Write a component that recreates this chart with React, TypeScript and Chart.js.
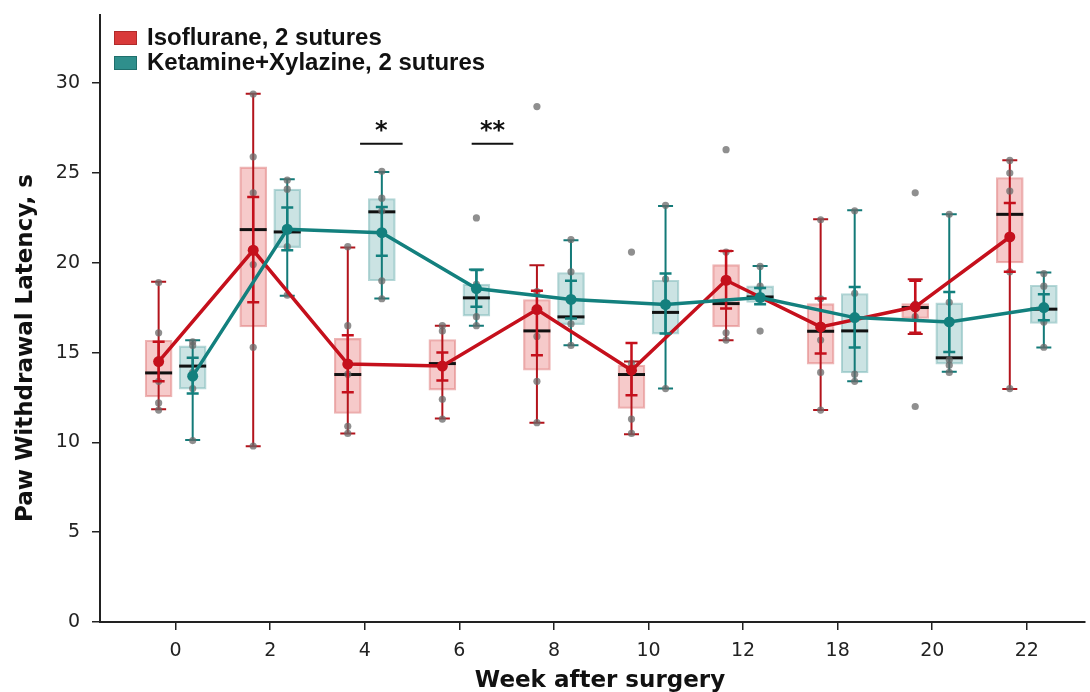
import React, { useEffect, useRef } from 'react';
import { Chart, registerables } from 'chart.js';

Chart.register(...registerables);

// ---------- data ----------
const weeks = ['0', '2', '4', '6', '8', '10', '12', '18', '20', '22'];
const seriesNames = ['Isoflurane, 2 sutures', 'Ketamine+Xylazine, 2 sutures'];

// Isoflurane
const isoMean = [14.5, 20.7, 14.36, 14.25, 17.4, 14.02, 19.03, 16.43, 17.55, 21.44];
const isoErrLow = [13.4, 17.8, 12.8, 13.45, 14.86, 12.63, 17.46, 14.95, 16.1, 19.5];
const isoErrHigh = [15.6, 23.67, 15.97, 15.01, 18.44, 15.54, 20.66, 18.01, 19.0, 23.33];
const isoQ1 = [12.54, 16.43, 11.61, 12.91, 14.02, 11.89, 16.43, 14.36, 16.9, 20.0];
const isoQ3 = [15.69, 25.34, 15.79, 15.73, 17.96, 14.3, 19.9, 17.73, 17.73, 24.75];
const isoMedian = [13.87, 21.85, 13.78, 14.39, 16.21, 13.78, 17.73, 16.19, 17.51, 22.7];
const isoWhiskerLow = [11.84, 9.79, 10.5, 11.33, 11.09, 10.46, 15.69, 11.8, 16.03, 12.97];
const isoWhiskerHigh = [18.94, 29.42, 20.85, 16.49, 19.87, 14.5, 20.66, 22.43, 19.09, 25.71];
const isoPoints = [
  [18.9, 16.1, 13.4, 12.2, 11.8],
  [29.4, 25.9, 23.9, 19.9, 15.3, 9.8],
  [20.9, 16.5, 13.8, 10.9, 10.5],
  [16.5, 16.2, 12.4, 11.3],
  [28.7, 18.4, 15.9, 13.4, 11.1],
  [20.6, 14.4, 11.3, 10.5],
  [26.3, 20.6, 16.1, 15.7],
  [22.4, 18.0, 15.7, 13.9, 11.8],
  [23.9, 17.7, 17.0, 12.0],
  [25.7, 25.0, 24.0, 19.5, 13.0],
];

// Ketamine+Xylazine
const ketMean = [13.69, 21.87, 21.68, 18.57, 17.96, 17.68, 18.07, 16.95, 16.71, 17.51];
const ketErrLow = [12.73, 20.7, 20.39, 17.55, 16.9, 16.07, 17.7, 15.29, 15.04, 16.8];
const ketErrHigh = [14.71, 23.08, 23.11, 19.6, 19.0, 19.4, 18.6, 18.66, 18.38, 18.25];
const ketQ1 = [12.97, 20.85, 19.0, 17.03, 16.56, 16.03, 17.79, 13.87, 14.36, 16.62];
const ketQ3 = [15.38, 24.1, 23.58, 18.81, 19.46, 19.03, 18.72, 18.29, 17.77, 18.75];
const ketMedian = [14.25, 21.72, 22.84, 18.05, 16.99, 17.24, 18.1, 16.21, 14.71, 17.42];
const ketWhiskerLow = [10.13, 18.16, 18.01, 16.49, 15.41, 13.0, 18.01, 13.41, 13.93, 15.29];
const ketWhiskerHigh = [15.69, 24.65, 25.06, 19.63, 21.26, 23.17, 19.83, 22.93, 22.7, 19.46];
const ketPoints = [
  [15.6, 15.4, 13.9, 13.0, 10.1],
  [24.6, 24.1, 20.9, 18.2],
  [25.1, 23.6, 22.9, 19.0, 18.0],
  [22.5, 18.8, 17.0, 16.5],
  [21.3, 19.5, 16.6, 15.4],
  [23.2, 19.1, 13.0],
  [19.8, 18.7, 16.2],
  [22.9, 18.3, 13.8, 13.4],
  [22.7, 17.8, 14.6, 14.3, 13.9],
  [19.4, 18.7, 16.7, 15.3],
];

// significance markers (x in category-index units)
const sigStart = [1.95, 3.13];
const sigEnd = [2.4, 3.57];
const sigValue = [26.63, 26.63];
const sigLabel = ['*', '**'];

const yTickValues = [0, 5, 10, 15, 20, 25, 30];
const xAxisTitle = 'Week after surgery';
const yAxisTitle = 'Paw Withdrawal Latency, s';

const GROUP_OFFSET = 0.18;

export default function App() {
  const canvasRef = useRef<HTMLCanvasElement | null>(null);

  useEffect(() => {
    document.body.style.margin = '0';
    const canvas = canvasRef.current;
    if (!canvas) return;

    const series = [
      {
        name: seriesNames[0],
        xs: weeks.map((_, i) => i - GROUP_OFFSET),
        mean: isoMean, errLow: isoErrLow, errHigh: isoErrHigh,
        q1: isoQ1, q3: isoQ3, median: isoMedian,
        wLow: isoWhiskerLow, wHigh: isoWhiskerHigh, points: isoPoints,
        line: '#c5101c', whisk: '#b3141c',
        fill: 'rgba(228,90,90,0.32)', border: 'rgba(215,90,90,0.45)',
        legendFill: '#d93a3a', legendBorder: '#b02a2a',
      },
      {
        name: seriesNames[1],
        xs: weeks.map((_, i) => i + GROUP_OFFSET),
        mean: ketMean, errLow: ketErrLow, errHigh: ketErrHigh,
        q1: ketQ1, q3: ketQ3, median: ketMedian,
        wLow: ketWhiskerLow, wHigh: ketWhiskerHigh, points: ketPoints,
        line: '#13807e', whisk: '#137a78',
        fill: 'rgba(70,155,155,0.28)', border: 'rgba(70,155,155,0.4)',
        legendFill: '#2f8f8c', legendBorder: '#1f6f6c',
      },
    ];

    const datasets: any[] = [];
    series.forEach((s, si) => {
      datasets.push({
        type: 'bar',
        label: s.name,
        role: 'box',
        seriesIndex: si,
        data: s.xs.map((x, i) => ({ x, y: [s.q1[i], s.q3[i]] })),
        backgroundColor: s.fill,
        borderColor: s.border,
        borderWidth: 1.5,
        borderSkipped: false,
        barThickness: 27,
        grouped: false,
        order: 10,
      });
    });
    series.forEach((s, si) => {
      datasets.push({
        type: 'scatter',
        label: s.name + ' points',
        role: 'points',
        seriesIndex: si,
        data: s.points.flatMap((arr, i) => arr.map((v) => ({ x: s.xs[i], y: v }))),
        backgroundColor: 'rgba(105,105,105,0.75)',
        borderWidth: 0,
        pointRadius: 3.6,
        showLine: false,
        order: 5,
      });
    });
    [0, 1].forEach((si) => {
      const s = series[si];
      datasets.push({
        type: 'line',
        label: s.name + ' mean',
        role: 'mean',
        seriesIndex: si,
        data: s.xs.map((x, i) => ({ x, y: s.mean[i] })),
        borderColor: s.line,
        backgroundColor: s.line,
        borderWidth: 3.5,
        pointRadius: 5.5,
        pointBorderWidth: 0,
        pointBackgroundColor: s.line,
        tension: 0,
        fill: false,
        order: si === 0 ? 2 : 1,
      });
    });

    const extras = {
      id: 'boxExtras',
      beforeDatasetDraw(chart: any, args: any) {
        const ds = chart.data.datasets[args.index];
        if (ds.role !== 'mean') return;
        const s = series[ds.seriesIndex];
        const xS = chart.scales.x, yS = chart.scales.y;
        const c = chart.ctx;
        c.save();
        c.strokeStyle = s.line;
        c.lineWidth = 2.5;
        s.xs.forEach((xv, i) => {
          const x = xS.getPixelForValue(xv);
          const y1 = yS.getPixelForValue(s.errLow[i]);
          const y2 = yS.getPixelForValue(s.errHigh[i]);
          c.beginPath();
          c.moveTo(x, y1); c.lineTo(x, y2);
          c.moveTo(x - 6, y1); c.lineTo(x + 6, y1);
          c.moveTo(x - 6, y2); c.lineTo(x + 6, y2);
          c.stroke();
        });
        c.restore();
      },
      afterDatasetDraw(chart: any, args: any) {
        const ds = chart.data.datasets[args.index];
        if (ds.role !== 'box') return;
        const s = series[ds.seriesIndex];
        const xS = chart.scales.x, yS = chart.scales.y;
        const c = chart.ctx;
        c.save();
        c.strokeStyle = s.whisk;
        c.lineWidth = 2;
        s.xs.forEach((xv, i) => {
          const x = xS.getPixelForValue(xv);
          const y1 = yS.getPixelForValue(s.wLow[i]);
          const y2 = yS.getPixelForValue(s.wHigh[i]);
          c.beginPath();
          c.moveTo(x, y1); c.lineTo(x, y2);
          c.moveTo(x - 7.5, y1); c.lineTo(x + 7.5, y1);
          c.moveTo(x - 7.5, y2); c.lineTo(x + 7.5, y2);
          c.stroke();
        });
        c.strokeStyle = '#111';
        c.lineWidth = 3;
        s.xs.forEach((xv, i) => {
          const x = xS.getPixelForValue(xv);
          const y = yS.getPixelForValue(s.median[i]);
          c.beginPath();
          c.moveTo(x - 13.5, y); c.lineTo(x + 13.5, y);
          c.stroke();
        });
        c.restore();
      },
      afterDraw(chart: any) {
        const xS = chart.scales.x, yS = chart.scales.y;
        const c = chart.ctx;
        c.save();
        // significance
        c.strokeStyle = '#111';
        c.fillStyle = '#111';
        c.lineWidth = 2.2;
        c.font = 'bold 24px "DejaVu Sans"';
        c.textAlign = 'center';
        c.textBaseline = 'alphabetic';
        sigStart.forEach((xs, i) => {
          const x1 = xS.getPixelForValue(xs);
          const x2 = xS.getPixelForValue(sigEnd[i]);
          const y = yS.getPixelForValue(sigValue[i]);
          c.beginPath();
          c.moveTo(x1, y); c.lineTo(x2, y);
          c.stroke();
          c.fillText(sigLabel[i], (x1 + x2) / 2, y - 6);
        });
        // legend
        c.textAlign = 'left';
        c.font = 'bold 24px "Liberation Sans"';
        series.forEach((s, i) => {
          const top = 31 + i * 25;
          c.fillStyle = s.legendFill;
          c.fillRect(114, top, 23, 14);
          c.strokeStyle = s.legendBorder;
          c.lineWidth = 1;
          c.strokeRect(114.5, top + 0.5, 22, 13);
          c.fillStyle = '#111';
          c.fillText(s.name, 147, 45 + i * 25);
        });
        // axis titles
        c.fillStyle = '#111';
        c.font = 'bold 23px "DejaVu Sans"';
        c.textAlign = 'center';
        c.fillText(xAxisTitle, 600, 687);
        c.translate(32, 348);
        c.rotate(-Math.PI / 2);
        c.fillText(yAxisTitle, 0, 0);
        c.restore();
      },
    };

    const zeroPad = (scale: any) => {
      scale.paddingTop = 0;
      scale.paddingBottom = 0;
      scale.paddingLeft = 0;
      scale.paddingRight = 0;
    };

    const chart = new Chart(canvas, {
      type: 'bar',
      data: { datasets },
      options: {
        responsive: false,
        animation: false,
        devicePixelRatio: 1,
        layout: { padding: { top: 15, left: 0, right: 0, bottom: 0 } },
        plugins: { legend: { display: false }, tooltip: { enabled: false } },
        scales: {
          x: {
            type: 'linear',
            min: -0.8,
            max: 9.61,
            offset: false,
            afterBuildTicks: (scale: any) => {
              scale.ticks = weeks.map((_, i) => ({ value: i }));
            },
            afterFit: (scale: any) => { scale.height = 70; zeroPad(scale); },
            ticks: {
              autoSkip: false,
              maxRotation: 0,
              padding: 10,
              color: '#222',
              font: { family: '"DejaVu Sans"', size: 19 },
              callback: (v: any) => weeks[Math.round(Number(v))] ?? '',
            },
            grid: { offset: false, drawOnChartArea: false, drawTicks: true, tickLength: 8, color: '#222', lineWidth: 1.5 },
            border: { display: true, color: '#222', width: 2 },
          },
          y: {
            type: 'linear',
            min: 0,
            max: 33.8,
            afterBuildTicks: (scale: any) => {
              scale.ticks = yTickValues.map((v) => ({ value: v }));
            },
            afterFit: (scale: any) => { scale.width = 100; zeroPad(scale); },
            ticks: {
              padding: 12,
              color: '#222',
              font: { family: '"DejaVu Sans"', size: 19 },
            },
            grid: { offset: false, drawOnChartArea: false, drawTicks: true, tickLength: 8, color: '#222', lineWidth: 1.5 },
            border: { display: true, color: '#222', width: 2 },
          },
        },
      } as any,
      plugins: [extras],
    });

    return () => chart.destroy();
  }, []);

  return (
    <div style={{ position: 'absolute', left: 0, top: 0, width: 1090, height: 692, background: '#fff' }}>
      <canvas ref={canvasRef} width={1090} height={692} style={{ display: 'block' }} />
    </div>
  );
}
